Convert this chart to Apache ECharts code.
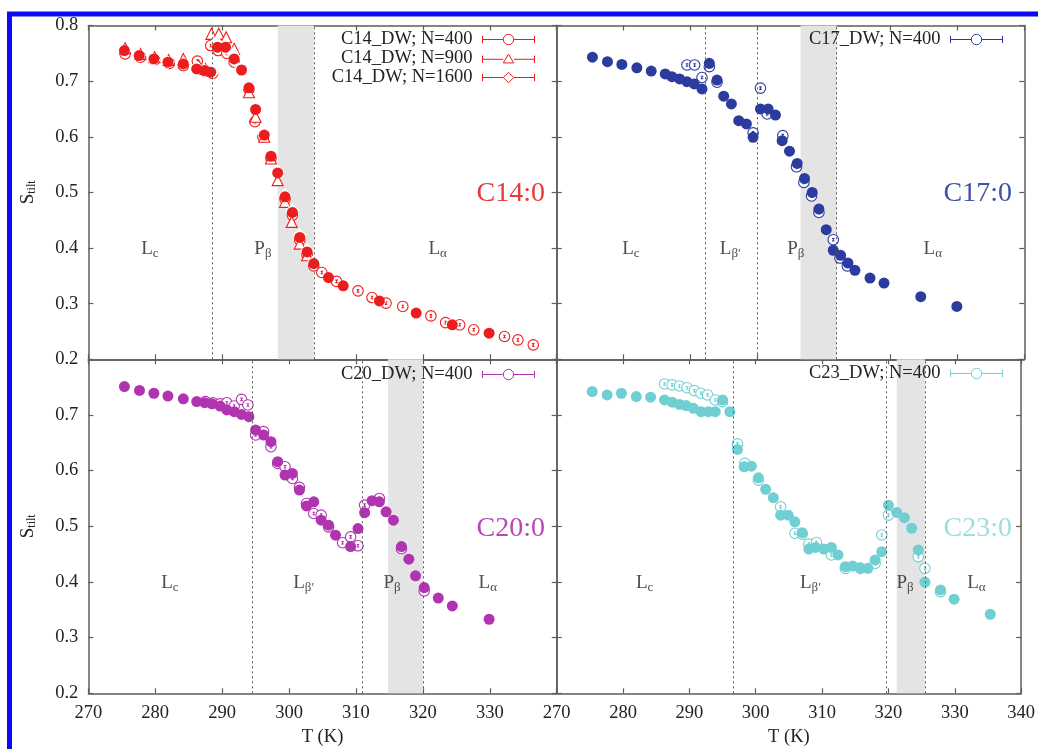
<!DOCTYPE html>
<html>
<head>
<meta charset="utf-8">
<script src="https://cdn.jsdelivr.net/npm/echarts@6/dist/echarts.min.js"></script>
<style>
  html, body { margin: 0; padding: 0; background: #fff; }
  #chart { width: 1038px; height: 749px; }
</style>
</head>
<body>
<div id="chart"></div>
<script>
// ---- Tilt order parameter S_tilt vs temperature T (K) ----
// filled circles: reference runs; open symbols: DW runs (with error bars)

const c14Filled = [[275.4,0.755],[277.6,0.746],[279.8,0.740],[281.9,0.734],[284.2,0.731],[286.2,0.722],[287.4,0.719],[288.3,0.716],[289.3,0.761],[290.5,0.761],[291.8,0.740],[292.9,0.720],[294.0,0.688],[295.0,0.649],[296.3,0.603],[297.3,0.565],[298.3,0.535],[299.4,0.492],[300.5,0.464],[301.6,0.419],[302.7,0.393],[303.7,0.372],[305.9,0.347],[308.1,0.332],[313.5,0.305],[319.0,0.283],[324.4,0.262],[329.9,0.247]];
const c14DW400 = [[275.5,0.749],[277.8,0.743],[279.9,0.738],[282.1,0.732],[284.2,0.728],[286.3,0.736],[287.5,0.718],[288.6,0.714],[288.3,0.764],[289.4,0.755],[290.7,0.750],[291.8,0.734],[294.0,0.685],[294.9,0.627],[296.1,0.600],[297.3,0.561],[299.4,0.488],[300.5,0.459],[301.6,0.414],[302.7,0.387],[303.7,0.368],[304.9,0.356],[307.1,0.340],[310.3,0.323],[312.4,0.311],[314.5,0.301],[317.0,0.295],[321.2,0.278],[323.4,0.266],[325.5,0.262],[327.6,0.253],[332.2,0.241],[334.2,0.235],[336.5,0.226]];
const c14DW900 = [[275.5,0.759],[277.8,0.749],[279.9,0.743],[282.0,0.738],[284.2,0.740],[286.5,0.728],[287.5,0.722],[288.4,0.785],[289.5,0.785],[290.6,0.779],[291.8,0.758],[294.0,0.680],[295.0,0.636],[296.3,0.600],[297.3,0.561],[298.3,0.522],[299.4,0.483],[300.4,0.447],[301.6,0.408],[302.7,0.387]];
const c14DW1600 = [[275.4,0.754],[277.6,0.746],[279.8,0.738],[281.9,0.734],[284.2,0.732],[286.2,0.725],[287.4,0.719],[288.6,0.716],[289.1,0.770],[290.4,0.761],[291.6,0.749],[292.7,0.722],[293.8,0.691],[295.0,0.650],[296.1,0.607],[297.3,0.568],[298.3,0.537],[299.4,0.495],[300.5,0.468],[301.6,0.423],[302.7,0.396],[303.7,0.375],[313.5,0.304],[324.4,0.264]];

const c17Filled = [[275.35,0.743],[277.6,0.735],[279.75,0.730],[282.0,0.724],[284.15,0.718],[286.25,0.713],[287.25,0.708],[288.4,0.704],[289.5,0.699],[290.6,0.695],[291.75,0.686],[292.85,0.732],[294.0,0.702],[295.0,0.673],[296.15,0.659],[297.25,0.629],[298.4,0.623],[299.4,0.599],[300.5,0.650],[301.65,0.650],[302.75,0.639],[303.75,0.593],[304.85,0.574],[306.0,0.552],[307.1,0.525],[308.25,0.500],[309.25,0.470],[310.35,0.433],[311.4,0.396],[312.5,0.387],[313.6,0.373],[314.65,0.360],[316.9,0.346],[319.0,0.337],[324.5,0.3125],[329.9,0.295]];
const c17DW400 = [[289.5,0.729],[290.65,0.729],[291.75,0.7065],[292.85,0.726],[294.0,0.698],[299.4,0.607],[300.5,0.6875],[301.5,0.641],[303.85,0.602],[305.9,0.546],[307.0,0.518],[308.15,0.4935],[309.25,0.464],[311.4,0.415],[312.4,0.382],[313.5,0.368]];

const c20Filled = [[275.4,0.751],[277.65,0.744],[279.8,0.739],[281.9,0.734],[284.2,0.729],[286.2,0.724],[287.4,0.722],[288.5,0.720],[289.7,0.716],[290.7,0.709],[291.8,0.706],[292.9,0.701],[294.0,0.697],[295.0,0.673],[296.2,0.664],[297.3,0.652],[298.3,0.616],[299.4,0.592],[300.5,0.595],[301.55,0.565],[302.6,0.5365],[303.7,0.544],[304.8,0.511],[305.9,0.502],[306.95,0.484],[309.2,0.4635],[310.3,0.496],[311.3,0.5245],[312.4,0.546],[313.5,0.544],[314.5,0.526],[315.6,0.511],[316.8,0.4635],[317.9,0.441],[318.9,0.411],[320.2,0.390],[322.3,0.371],[324.4,0.357],[329.9,0.333]];
const c20DW400 = [[287.5,0.724],[288.6,0.722],[289.7,0.720],[290.7,0.722],[291.8,0.716],[292.9,0.728],[293.85,0.718],[295.0,0.664],[296.2,0.670],[297.3,0.643],[298.3,0.613],[299.4,0.607],[300.5,0.586],[301.55,0.570],[302.6,0.541],[303.7,0.523],[304.8,0.520],[305.9,0.499],[308.0,0.4705],[309.2,0.481],[310.3,0.465],[311.3,0.538],[313.5,0.550],[316.8,0.460],[320.2,0.384]];

const c23Filled = [[275.35,0.742],[277.6,0.736],[279.75,0.739],[282.0,0.733],[284.15,0.732],[286.25,0.727],[287.4,0.723],[288.5,0.719],[289.5,0.717],[290.6,0.712],[291.75,0.706],[292.85,0.706],[293.9,0.706],[295.0,0.727],[296.1,0.706],[297.25,0.638],[298.25,0.607],[299.35,0.608],[300.4,0.587],[301.5,0.5665],[302.65,0.5515],[303.75,0.520],[304.9,0.520],[305.9,0.508],[307.0,0.4886],[308.0,0.459],[309.0,0.462],[310.25,0.459],[311.4,0.462],[312.4,0.4485],[313.5,0.4275],[314.6,0.4287],[315.75,0.4257],[316.9,0.4245],[318.0,0.4395],[319.0,0.4545],[320.0,0.538],[321.25,0.525],[322.4,0.5155],[323.5,0.4965],[324.5,0.4575],[325.5,0.3995],[327.85,0.3856],[329.9,0.369],[335.35,0.342]];
const c23DW400 = [[286.25,0.7557],[287.4,0.754],[288.5,0.752],[289.65,0.749],[290.75,0.7437],[291.75,0.739],[292.75,0.736],[293.9,0.727],[295.0,0.724],[297.25,0.648],[298.35,0.613],[300.4,0.583],[303.75,0.535],[305.9,0.4875],[307.0,0.486],[308.0,0.468],[309.15,0.471],[311.4,0.4485],[313.5,0.4245],[315.75,0.4245],[318.0,0.4335],[319.0,0.4844],[320.0,0.520],[324.5,0.4455],[325.5,0.4245],[327.85,0.3826]];

// phase boundaries (dotted lines) and coexistence bands (grey)
const c14Bounds = [288.5, 303.7];
const c17Bounds = [292.3, 300.0, 311.9];
const c20Bounds = [294.5, 310.9, 320.0];
const c23Bounds = [296.65, 319.6, 325.5];
const c14Band = [298.3, 303.7];
const c17Band = [306.5, 311.9];
const c20Band = [314.8, 320.0];
const c23Band = [321.25, 325.5];

// phase names: main letter, subscript, temperature where the name sits
const c14Phases = [['L','c',279.2],['P','β',296.1],['L','α',322.2]];
const c17Phases = [['L','c',281.1],['L','β\u2032',296.0],['P','β',305.8],['L','α',326.3]];
const c20Phases = [['L','c',282.2],['L','β\u2032',302.2],['P','β',315.4],['L','α',329.7]];
const c23Phases = [['L','c',283.25],['L','β\u2032',308.25],['P','β',322.5],['L','α',333.25]];

const panelNames = ['C14:0', 'C17:0', 'C20:0', 'C23:0'];
const xTicks = { min: 270, max: 340, step: 10 };
const yTicks = { min: 0.2, max: 0.8, step: 0.1 };

const FONT = 'Liberation Serif';
const RED = '#ee1d1d', BLUE = '#2c3b9e', MAG = '#b034b0', CYAN = '#6fcfd3';
const AXIS = '#5e5e5e';

// open circle with a small error bar inside
const SYM_CIRCLE = 'path://M0,50 A50,50 0 1,1 100,50 A50,50 0 1,1 0,50 Z M38,38 L62,38 M50,38 L50,62 M38,62 L62,62';
const SYM_TRI = 'path://M50,0 L100,87 L0,87 Z';
// legend keys: error-bar line with the symbol in the middle
const KEY_CIRCLE = 'path://M0,50 L40,50 M60,50 L100,50 M0,43 L0,57 M100,43 L100,57 M40,50 A10,10 0 1,1 60,50 A10,10 0 1,1 40,50 Z';
const KEY_TRI = 'path://M0,50 L40,50 M60,50 L100,50 M0,43 L0,57 M100,43 L100,57 M50,40 L60,57 L40,57 Z';
const KEY_DIAM = 'path://M0,50 L40,50 M60,50 L100,50 M0,43 L0,57 M100,43 L100,57 M50,40 L60,50 L50,60 L40,50 Z';

const grids = [
  { left: 88.3, top: 25.5, width: 468.4, height: 333.8 },
  { left: 556.7, top: 25.5, width: 467.6, height: 333.8 },
  { left: 88.3, top: 359.3, width: 468.4, height: 334 },
  { left: 556.7, top: 359.3, width: 467.6, height: 334 }
];

const xAxes = [], yAxes = [];
grids.forEach((g, i) => {
  const isBottom = i >= 2, isLeft = i % 2 === 0;
  const base = {
    gridIndex: i, type: 'value', min: xTicks.min, max: xTicks.max, interval: xTicks.step,
    axisLine: { onZero: false, lineStyle: { color: AXIS, width: 1.5 } },
    axisTick: { inside: true, length: 5, lineStyle: { color: AXIS, width: 1.2 } },
    splitLine: { show: false }
  };
  xAxes.push(Object.assign({}, base, {
    position: 'bottom',
    name: isBottom ? 'T (K)' : '', nameLocation: 'middle', nameGap: 34,
    nameTextStyle: { fontFamily: FONT, fontSize: 18.5, color: '#222' },
    axisLabel: { show: isBottom, margin: 10, fontFamily: FONT, fontSize: 18.5, color: '#222',
                 showMaxLabel: i === 3, showMinLabel: true }
  }));
  xAxes.push(Object.assign({}, base, { position: 'top', axisLabel: { show: false } }));
  const ybase = {
    gridIndex: i, type: 'value', min: yTicks.min, max: yTicks.max, interval: yTicks.step,
    axisLine: { onZero: false, lineStyle: { color: AXIS, width: 1.5 } },
    axisTick: { inside: true, length: 5, lineStyle: { color: AXIS, width: 1.2 } },
    splitLine: { show: false }
  };
  yAxes.push(Object.assign({}, ybase, {
    position: 'left',
    name: isLeft ? '{m|S}{s|tilt}' : '', nameLocation: 'middle', nameGap: 50,
    nameTextStyle: { fontFamily: FONT, color: '#222',
      rich: { m: { fontFamily: FONT, fontSize: 19, color: '#222' },
              s: { fontFamily: FONT, fontSize: 12, color: '#222', padding: [8, 0, 0, 0] } } },
    axisLabel: { show: isLeft, margin: 10, fontFamily: FONT, fontSize: 18.5, color: '#222',
                 formatter: v => v.toFixed(1), showMaxLabel: i === 0, showMinLabel: true }
  }));
  yAxes.push(Object.assign({}, ybase, { position: 'right', axisLabel: { show: false } }));
});

function frame(i, phases, bounds, band) {
  return {
    type: 'scatter', xAxisIndex: 2 * i, yAxisIndex: 2 * i, silent: true, z: 1,
    symbolSize: 1, itemStyle: { color: 'rgba(0,0,0,0)' },
    data: phases.map(p => ({ value: [p[2], 0.398], label: { formatter: '{m|' + p[0] + '}{s|' + p[1] + '}' } })),
    label: {
      show: true, position: 'inside',
      rich: {
        m: { fontFamily: FONT, fontSize: 19, color: '#222', lineHeight: 20, verticalAlign: 'top' },
        s: { fontFamily: FONT, fontSize: 13, color: '#222', lineHeight: 13, padding: [8, 0, 0, 0], verticalAlign: 'top' }
      }
    },
    markArea: { silent: true, itemStyle: { color: '#e4e4e4' },
      data: [[{ xAxis: band[0] }, { xAxis: band[1] }]] },
    markLine: { silent: true, symbol: 'none', label: { show: false },
      lineStyle: { type: [2, 3], color: '#555', width: 1 },
      data: bounds.map(x => ({ xAxis: x })) }
  };
}

function openSeries(i, name, data, color, symbol, size) {
  return {
    name, type: 'scatter', xAxisIndex: 2 * i, yAxisIndex: 2 * i, z: 3,
    symbol, symbolSize: size, data,
    itemStyle: { color: '#fff', borderColor: color, borderWidth: 1.1, opacity: 1 }
  };
}
function filledSeries(i, data, color) {
  return {
    name: 'filled-' + i, type: 'scatter', xAxisIndex: 2 * i, yAxisIndex: 2 * i, z: 4,
    symbol: 'circle', symbolSize: 11, data,
    itemStyle: { color, opacity: 1 }
  };
}

const series = [
  frame(0, c14Phases, c14Bounds, c14Band),
  frame(1, c17Phases, c17Bounds, c17Band),
  frame(2, c20Phases, c20Bounds, c20Band),
  frame(3, c23Phases, c23Bounds, c23Band),
  openSeries(0, 'C14_DW; N=400', c14DW400, RED, SYM_CIRCLE, 10.5),
  openSeries(0, 'C14_DW; N=900', c14DW900, RED, SYM_TRI, 11),
  openSeries(0, 'C14_DW; N=1600', c14DW1600, RED, 'emptyDiamond', 11),
  openSeries(1, 'C17_DW; N=400', c17DW400, BLUE, SYM_CIRCLE, 10.5),
  openSeries(2, 'C20_DW; N=400', c20DW400, MAG, SYM_CIRCLE, 10.5),
  openSeries(3, 'C23_DW; N=400', c23DW400, CYAN, SYM_CIRCLE, 10.5),
  filledSeries(0, c14Filled, RED),
  filledSeries(1, c17Filled, BLUE),
  filledSeries(2, c20Filled, MAG),
  filledSeries(3, c23Filled, CYAN)
];

function legend(right, top, items) {
  return {
    orient: 'vertical', right, top, align: 'right', selectedMode: false,
    itemWidth: 52, itemHeight: 14, itemGap: 0, padding: 0,
    itemStyle: { borderWidth: 1 },
    textStyle: { fontFamily: FONT, fontSize: 18.5, color: '#222', padding: [0, 5, 0, 0] },
    data: items.map(([name, icon]) => ({ name, icon }))
  };
}

const labelColors = ['#e6393b', '#4151a8', '#b848b8', '#9adfe0'];
const titles = panelNames.map((t, i) => ({
  text: t, right: i % 2 === 0 ? 493 : 26, top: i < 2 ? 180 : 515, padding: 0,
  textStyle: { fontFamily: FONT, fontSize: 28, fontWeight: 'normal', color: labelColors[i] }
}));

const chart = echarts.init(document.getElementById('chart'), null, { renderer: 'canvas' });
chart.setOption({
  backgroundColor: '#fff',
  animation: false,
  title: titles,
  grid: grids,
  xAxis: xAxes,
  yAxis: yAxes,
  legend: [
    legend(503, 30, [['C14_DW; N=400', KEY_CIRCLE], ['C14_DW; N=900', KEY_TRI], ['C14_DW; N=1600', KEY_DIAM]]),
    legend(35, 30, [['C17_DW; N=400', KEY_CIRCLE]]),
    legend(503, 365, [['C20_DW; N=400', KEY_CIRCLE]]),
    legend(35, 364, [['C23_DW; N=400', KEY_CIRCLE]])
  ],
  graphic: [{
    type: 'rect', silent: true, z: 100,
    shape: { x: 9.5, y: 14, width: 1060, height: 780 },
    style: { fill: 'none', stroke: '#0a0af5', lineWidth: 5 }
  }],
  series
});
</script>
</body>
</html>
